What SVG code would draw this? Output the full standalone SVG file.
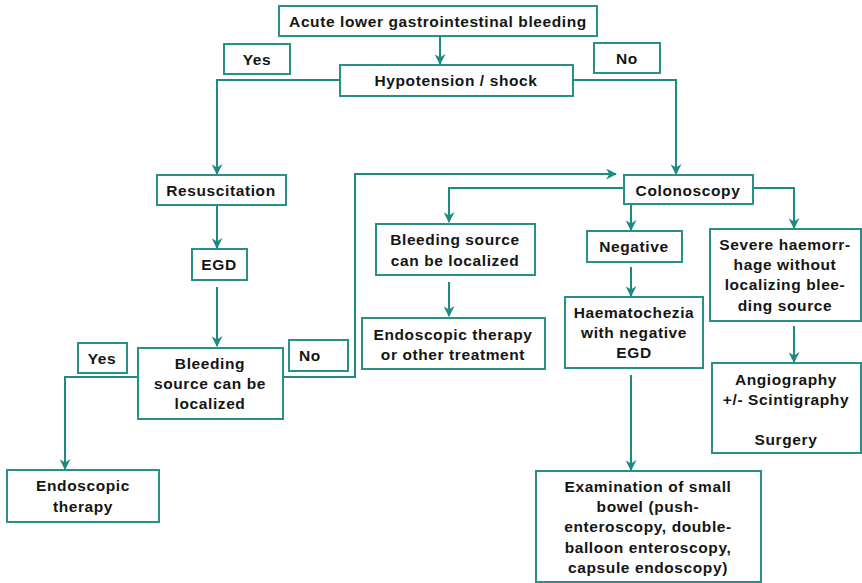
<svg xmlns="http://www.w3.org/2000/svg" width="862" height="583" viewBox="0 0 862 583">
<defs>
<marker id="ah" viewBox="0 0 10 10" refX="9" refY="5" markerWidth="5.5" markerHeight="5.5" orient="auto" markerUnits="strokeWidth">
<path d="M0,0 L10,5 L0,10 L3,5 z" fill="#1f8a84"/>
</marker>
<style>
rect{fill:#fff;stroke:#2a8f88;stroke-width:2}
text{font-family:"Liberation Sans",Arial,sans-serif;font-weight:bold;font-size:15.5px;letter-spacing:0.6px;fill:#151515;text-anchor:middle}
.c{fill:none;stroke:#1f8a84;stroke-width:2}
.a{marker-end:url(#ah)}
</style>
</defs>
<rect x="0" y="0" width="862" height="583" style="fill:#fff;stroke:none"/>
<g id="connectors">
<path class="c a" d="M440,36 V64"/>
<path class="c a" d="M340,80 H217 V174"/>
<path class="c a" d="M573,80 H676 V174"/>
<path class="c a" d="M217,205 V248"/>
<path class="c a" d="M217,287 V346"/>
<path class="c a" d="M138,377 H65 V469"/>
<path class="c a" d="M283,377 H355 V174 H616"/>
<path class="c a" d="M624,188 H449 V222"/>
<path class="c a" d="M449,282 V316"/>
<path class="c a" d="M631,204 V230"/>
<path class="c a" d="M631,267 V296"/>
<path class="c a" d="M631,375 V470"/>
<path class="c a" d="M753,188 H794 V228"/>
<path class="c a" d="M794,326 V362"/>
</g>
<g id="n_acute"><rect x="279" y="6" width="318" height="30"/><text x="438" y="27">Acute lower gastrointestinal bleeding</text></g>
<g id="n_yes1"><rect x="224" y="44" width="66" height="30"/><text x="257" y="65">Yes</text></g>
<g id="n_no1"><rect x="594" y="43" width="66" height="30"/><text x="627" y="64">No</text></g>
<g id="n_hypo"><rect x="340" y="65" width="233" height="31"/><text x="456" y="86">Hypotension / shock</text></g>
<g id="n_resus"><rect x="157" y="175" width="129" height="30"/><text x="221" y="196">Resuscitation</text></g>
<g id="n_egd"><rect x="192" y="249" width="55" height="31"/><text x="219" y="270">EGD</text></g>
<g id="n_bleed1"><rect x="138" y="348" width="145" height="71"/><text x="210" y="369">Bleeding</text><text x="210" y="389">source can be</text><text x="210" y="409">localized</text></g>
<g id="n_yes2"><rect x="78" y="343" width="49" height="30"/><text x="102" y="364">Yes</text></g>
<g id="n_no2"><rect x="289" y="340" width="59" height="31"/><text x="310" y="361">No</text></g>
<g id="n_endo1"><rect x="7" y="470" width="152" height="52"/><text x="83" y="491">Endoscopic</text><text x="83" y="512">therapy</text></g>
<g id="n_colo"><rect x="624" y="175" width="129" height="29"/><text x="688" y="196">Colonoscopy</text></g>
<g id="n_bleed2"><rect x="376" y="224" width="159" height="51"/><text x="455" y="245">Bleeding source</text><text x="455" y="266">can be localized</text></g>
<g id="n_endo2"><rect x="362" y="318" width="183" height="51"/><text x="453" y="340">Endoscopic therapy</text><text x="453" y="360">or other treatment</text></g>
<g id="n_neg"><rect x="587" y="231" width="95" height="31"/><text x="634" y="252">Negative</text></g>
<g id="n_haem"><rect x="565" y="297" width="138" height="71"/><text x="634" y="318">Haematochezia</text><text x="634" y="338">with negative</text><text x="634" y="358">EGD</text></g>
<g id="n_severe"><rect x="710" y="229" width="151" height="92"/><text x="785" y="250">Severe haemorr-</text><text x="785" y="270">hage without</text><text x="785" y="290">localizing blee-</text><text x="785" y="311">ding source</text></g>
<g id="n_angio"><rect x="712" y="363" width="149" height="90"/><text x="786" y="385">Angiography</text><text x="786" y="405">+/- Scintigraphy</text><text x="786" y="445">Surgery</text></g>
<g id="n_exam"><rect x="536" y="471" width="225" height="111"/><text x="648" y="492">Examination of small</text><text x="648" y="512">bowel (push-</text><text x="648" y="532">enteroscopy, double-</text><text x="648" y="553">balloon enteroscopy,</text><text x="648" y="573">capsule endoscopy)</text></g>
</svg>
